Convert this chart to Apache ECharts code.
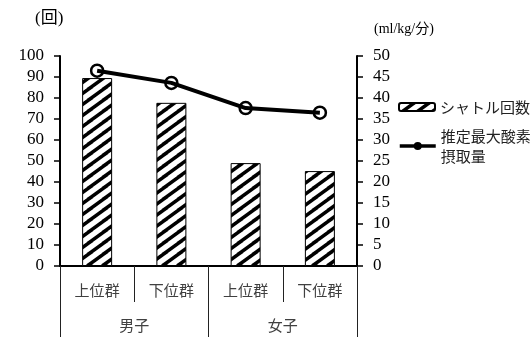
<!DOCTYPE html>
<html>
<head>
<meta charset="utf-8">
<script src="https://cdn.jsdelivr.net/npm/echarts@6/dist/echarts.min.js"></script>
<style>
  html, body { margin: 0; padding: 0; background: #fff; }
  #chart { width: 532px; height: 338px; }
</style>
</head>
<body>
<div id="chart"></div>
<script>
// Sub-groups on the inner axis row and groups on the outer row
const groupLabels = ['男子', '女子'];
const subLabels = ['上位群', '下位群', '上位群', '下位群'];

// Shuttle run count (left axis, 回)
const shuttleCounts = [89.5, 77.7, 49.0, 45.2];
// Estimated VO2max (right axis, ml/kg/分)
const vo2max = [46.5, 43.6, 37.6, 36.5];

const barName = 'シャトル回数';
const lineName = '推定最大酸素摂取量';

const SERIF = '"Liberation Serif", "DejaVu Serif", "Noto Sans CJK JP", serif';
const JP = '"Noto Sans CJK JP", "Liberation Serif", serif';

// Diagonal hatch tile for the bars (stripes rising left to right)
function makeHatch() {
  const w = 15, h = 11;
  const c = document.createElement('canvas');
  c.width = w; c.height = h;
  const g = c.getContext('2d');
  g.fillStyle = '#fff';
  g.fillRect(0, 0, w, h);
  g.strokeStyle = '#000';
  g.lineWidth = 3.6;
  g.beginPath();
  for (let k = -1; k <= 1; k++) {
    g.moveTo(k * w - 3, h + 2);
    g.lineTo(k * w + w + 3, -2);
  }
  g.stroke();
  return c;
}
const hatch = { image: makeHatch(), repeat: 'repeat' };

const chart = echarts.init(document.getElementById('chart'), null, { renderer: 'canvas' });

chart.setOption({
  animation: false,
  backgroundColor: '#fff',
  grid: { left: 60, right: 175, top: 56, bottom: 72, containLabel: false },
  graphic: [
    { type: 'text', left: 35, top: 10,
      style: { text: '(回)', font: '17px ' + SERIF, fill: '#000' } },
    { type: 'text', left: 374, top: 22,
      style: { text: '(ml/kg/分)', font: '14px ' + SERIF, fill: '#000' } }
  ],
  legend: [
    {
      data: [barName],
      left: 398, top: 97, padding: 0,
      itemWidth: 36, itemHeight: 8,
      textStyle: { fontFamily: JP, fontSize: 15, color: '#222', lineHeight: 20 }
    },
    {
      data: [{ name: lineName, itemStyle: { color: '#000', borderColor: '#000', borderWidth: 0 } }],
      left: 398, top: 116, padding: 0,
      itemWidth: 36, itemHeight: 10,
      formatter: () => '推定最大酸素\n摂取量',
      lineStyle: { width: 3.5, color: '#000' },
      textStyle: { fontFamily: JP, fontSize: 15, color: '#222', lineHeight: 20, padding: [20, 0, 0, 0] }
    }
  ],
  xAxis: [
    {
      type: 'category',
      data: subLabels,
      position: 'bottom',
      axisLine: { show: true, lineStyle: { color: '#000', width: 2 } },
      axisTick: { show: true, length: 36, lineStyle: { color: '#222', width: 1 } },
      axisLabel: { interval: 0, margin: 17, fontFamily: JP, fontSize: 15, color: '#404040' }
    },
    {
      type: 'category',
      data: groupLabels,
      position: 'bottom',
      axisLine: { show: false },
      axisTick: { show: true, length: 71, lineStyle: { color: '#222', width: 1 } },
      axisLabel: { interval: 0, margin: 52, fontFamily: JP, fontSize: 15, color: '#404040' }
    }
  ],
  yAxis: [
    {
      type: 'value', min: 0, max: 100, interval: 10,
      axisLine: { show: true, lineStyle: { color: '#000', width: 2 } },
      axisTick: { show: true, length: 6, lineStyle: { color: '#000', width: 1.5 } },
      splitLine: { show: false },
      axisLabel: { margin: 16, fontFamily: SERIF, fontSize: 17, color: '#000' }
    },
    {
      type: 'value', min: 0, max: 50, interval: 5,
      position: 'right',
      axisLine: { show: true, lineStyle: { color: '#000', width: 2 } },
      axisTick: { show: true, length: 6, lineStyle: { color: '#000', width: 1.5 } },
      splitLine: { show: false },
      axisLabel: { margin: 16, fontFamily: SERIF, fontSize: 17, color: '#000' }
    }
  ],
  series: [
    {
      name: barName,
      type: 'bar',
      xAxisIndex: 0, yAxisIndex: 0,
      barWidth: 30,
      data: shuttleCounts,
      itemStyle: { color: hatch, borderColor: '#000', borderWidth: 1 }
    },
    {
      name: lineName,
      type: 'line',
      xAxisIndex: 0, yAxisIndex: 1,
      data: vo2max,
      symbol: 'circle',
      symbolSize: 12,
      lineStyle: { color: '#000', width: 4 },
      itemStyle: { color: 'rgba(255,255,255,0)', borderColor: '#000', borderWidth: 2.5 },
      z: 3
    }
  ]
});
</script>
</body>
</html>
